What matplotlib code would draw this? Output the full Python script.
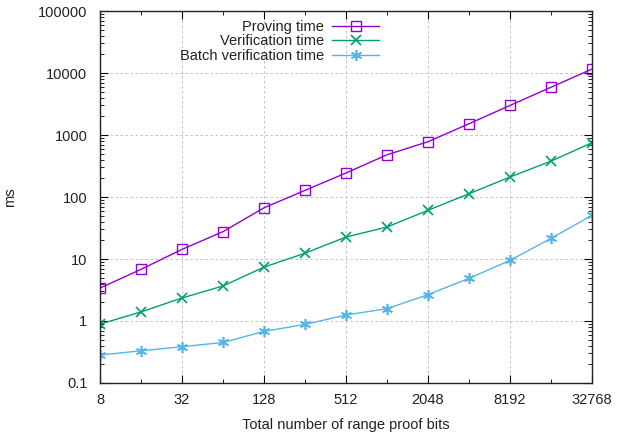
import matplotlib
matplotlib.use("Agg")
import matplotlib.pyplot as plt
from matplotlib.ticker import FixedLocator, NullFormatter, LogLocator

plt.rcParams['font.family'] = ['Liberation Sans', 'DejaVu Sans']

bits = [8, 16, 32, 64, 128, 256, 512, 1024, 2048, 4096, 8192, 16384, 32768]
proving = [3.4, 6.8, 14.3, 27.6, 67, 128, 244, 480, 780, 1520, 3000, 5900, 11600]
verification = [0.89, 1.4, 2.35, 3.67, 7.4, 12.4, 22.6, 32.8, 61, 113, 210, 380, 750]
batch = [0.283, 0.33, 0.385, 0.45, 0.68, 0.88, 1.25, 1.58, 2.66, 4.88, 9.5, 21.5, 50.7]
x_ticks = [8, 32, 128, 512, 2048, 8192, 32768]
x_minor = [16, 64, 256, 1024, 4096, 16384]
y_ticks = [0.1, 1, 10, 100, 1000, 10000, 100000]
y_labels = ['0.1', '1', '10', '100', '1000', '10000', '100000']

fig = plt.figure(figsize=(6.17, 4.33), dpi=100)
ax = fig.add_axes([0.162, 0.1155, 0.7975, 0.859])

ax.plot(bits, proving, color='#9400d3', marker='s', mfc='none', ms=7, mew=1, lw=1, label='Proving time')
ax.plot(bits, verification, color='#009e73', marker='x', ms=7, mew=1.2, lw=1, label='Verification time')
ax.plot(bits, batch, color='#56b4e9', marker=(6, 2, 0), ms=8, mew=1.2, lw=1, label='Batch verification time')

ax.set_xscale('log', base=2)
ax.set_yscale('log')
ax.set_xlim(8, 32768)
ax.set_ylim(0.1, 100000)
ax.xaxis.set_major_locator(FixedLocator(x_ticks))
ax.set_xticklabels([str(v) for v in x_ticks])
ax.xaxis.set_minor_locator(FixedLocator(x_minor))
ax.xaxis.set_minor_formatter(NullFormatter())
ax.yaxis.set_major_locator(FixedLocator(y_ticks))
ax.set_yticklabels(y_labels)
ax.yaxis.set_minor_locator(LogLocator(base=10, subs=range(2, 10), numticks=20))
ax.yaxis.set_minor_formatter(NullFormatter())

ax.tick_params(which='both', direction='in', top=True, right=True, labelsize=10.5, colors='#000000', labelcolor='#222222')
ax.tick_params(which='major', length=6, width=0.8)
ax.tick_params(which='minor', length=3, width=0.6)
ax.tick_params(axis='x', pad=7)
ax.tick_params(axis='y', pad=9)

ax.grid(True, which='major', color='#b8b8b8', ls=(0, (3, 3)), lw=0.6)
for s in ax.spines.values():
    s.set_linewidth(1.0)
    s.set_color('#222222')

ax.set_xlabel('Total number of range proof bits', fontsize=10.5, color='#222222', labelpad=8)
ax.set_ylabel('ms', fontsize=10.5, color='#222222')
ax.yaxis.set_label_coords(-0.168, 0.5)

leg = ax.legend(loc='upper right', bbox_to_anchor=(0.588, 1.004), markerfirst=False, frameon=False,
                fontsize=10.5, handlelength=3.2, labelspacing=0.05, borderaxespad=0.3, handletextpad=0.6)
for t in leg.get_texts():
    t.set_color('#222222')

fig.savefig('out.png', dpi=100)
